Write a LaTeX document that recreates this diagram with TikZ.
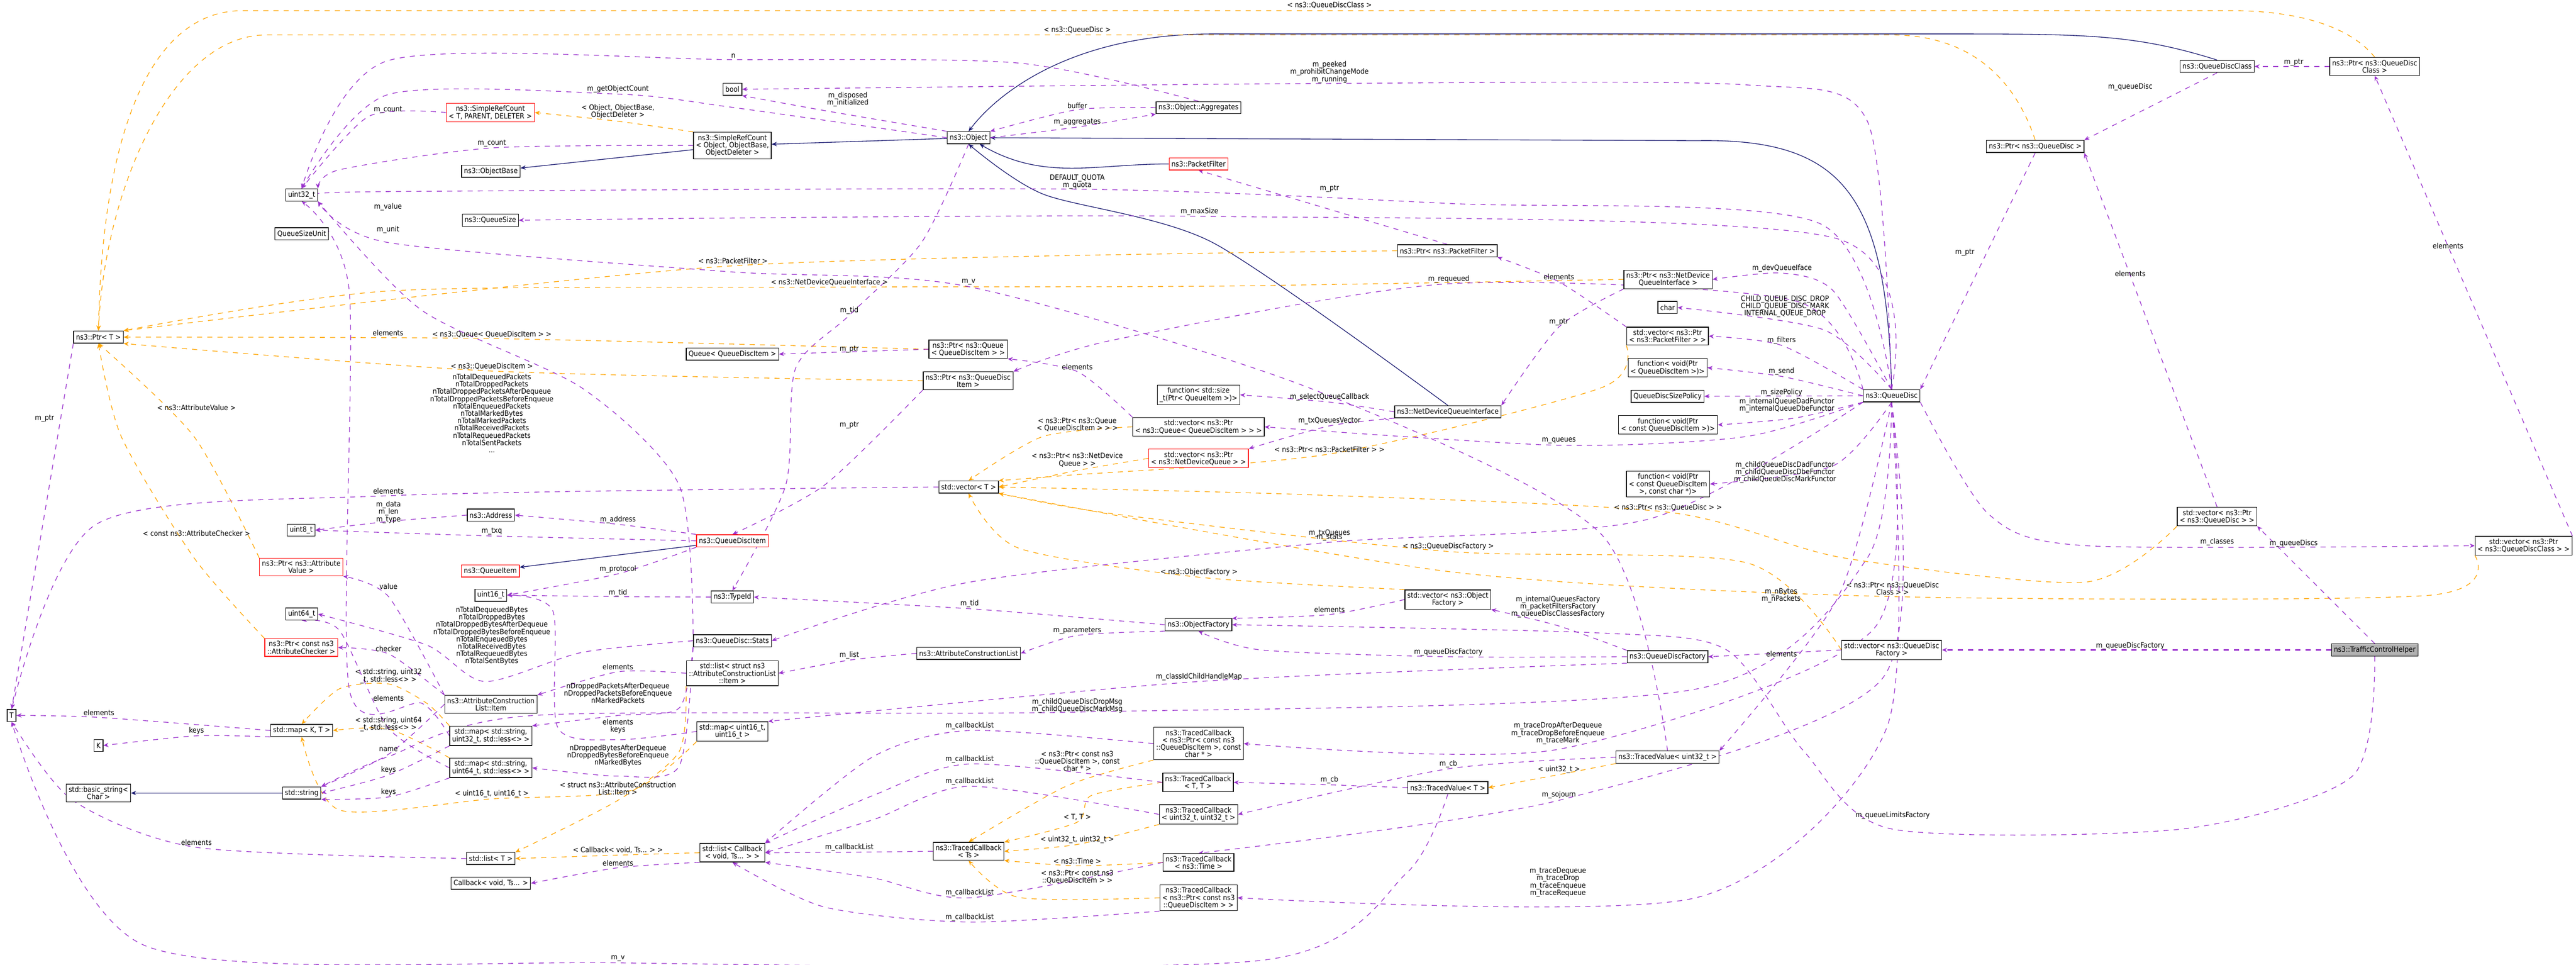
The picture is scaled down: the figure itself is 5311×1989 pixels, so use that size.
\documentclass[tikz,border=0pt]{standalone}
\usepackage{fontspec}
\setmainfont{DejaVu Sans Condensed}
\usetikzlibrary{arrows.meta,backgrounds}
\definecolor{pc}{HTML}{9A32CD}
\definecolor{oc}{HTML}{FFA500}
\definecolor{nc}{HTML}{191970}
\newcommand{\fs}{\fontsize{4.3}{4.3}\selectfont}
\newcommand{\Lb}[3]{\node[lbl] at (#1,#2) {#3};}
\newcommand{\Pe}[2]{\draw[#1] plot[smooth,tension=0.45] coordinates {#2};}
\begin{document}
\begin{tikzpicture}[x=0.01cm,y=-0.01cm,
 box/.style={draw=black,fill=white,inner sep=1.4pt,align=center,font=\fs,minimum height=0.25cm},
 rbox/.style={box,draw=red},
 pe/.style={dashed,draw=pc,-{Stealth[length=3pt,width=2.5pt]},thin},
 oe/.style={dashed,draw=oc,-{Stealth[length=3pt,width=2.5pt]},thin},
 ne/.style={draw=nc,-{Stealth[length=3pt,width=2.5pt]},thin},
 lbl/.style={font=\fs,align=center,inner sep=0.5pt,text=black}]
\useasboundingbox (0,0) rectangle (5311,1989);
\node[box] (ptrT) at (203,695) {ns3::Ptr< T >};
\node[box] (u32) at (622,402) {uint32\_t};
\node[box] (qsu) at (622,482) {QueueSizeUnit};
\node[box] (qsize) at (1011,454) {ns3::QueueSize};
\node[rbox] (srcT) at (1011,232) {ns3::SimpleRefCount\\< T, PARENT, DELETER >};
\node[box] (srcO) at (1510,300) {ns3::SimpleRefCount\\< Object, ObjectBase,\\ObjectDeleter >};
\node[box] (objbase) at (1012,353) {ns3::ObjectBase};
\node[box] (bool) at (1510,184) {bool};
\node[box] (queueqdi) at (1510,730) {Queue< QueueDiscItem >};
\node[box] (obj) at (1997,284) {ns3::Object};
\node[box] (aggr) at (2471,222) {ns3::Object::Aggregates};
\node[rbox] (pf) at (2471,338) {ns3::PacketFilter};
\node[box] (ptrpf) at (2984,517) {ns3::Ptr< ns3::PacketFilter >};
\node[box] (ptrndqi) at (3439,576) {ns3::Ptr< ns3::NetDevice\\QueueInterface >};
\node[box] (char) at (3438,634) {char};
\node[box] (vecpf) at (3438,693) {std::vector< ns3::Ptr\\< ns3::PacketFilter > >};
\node[box] (fnqdi) at (3438,758) {function< void(Ptr\\< QueueDiscItem >)>};
\node[box] (qdsp) at (3438,817) {QueueDiscSizePolicy};
\node[box] (fncqdi) at (3439,876) {function< void(Ptr\\< const QueueDiscItem >)>};
\node[box] (fncqdic) at (3439,998) {function< void(Ptr\\< const QueueDiscItem\\>, const char *)>};
\node[box] (ptrq) at (1996,720) {ns3::Ptr< ns3::Queue\\< QueueDiscItem > >};
\node[box] (ptrqdi) at (1996,785) {ns3::Ptr< ns3::QueueDisc\\Item >};
\node[box] (fnsize) at (2471,814) {function< std::size\\\_t(Ptr< QueueItem >)>};
\node[box] (ndqi) at (2985,849) {ns3::NetDeviceQueueInterface};
\node[box] (vecq) at (2471,880) {std::vector< ns3::Ptr\\< ns3::Queue< QueueDiscItem > > >};
\node[rbox] (vecndq) at (2471,945) {std::vector< ns3::Ptr\\< ns3::NetDeviceQueue > >};
\node[box] (vecT) at (1997,1004) {std::vector< T >};
\node[box] (qdc) at (4571,137) {ns3::QueueDiscClass};
\node[box] (ptrqdc) at (4896,137) {ns3::Ptr< ns3::QueueDisc\\Class >};
\node[box] (ptrqd) at (4196,302) {ns3::Ptr< ns3::QueueDisc >};
\node[box] (qd) at (3900,816) {ns3::QueueDisc};
\node[box] (T) at (24,1475) {T};
\node[box] (K) at (203,1537) {K};
\node[box] (mapKT) at (622,1506) {std::map< K, T >};
\node[box] (bstr) at (203,1635) {std::basic\_string<\\Char >};
\node[box] (str) at (622,1635) {std::string};
\node[box] (u8) at (621,1093) {uint8\_t};
\node[box] (addr) at (1012,1062) {ns3::Address};
\node[rbox] (qdi) at (1510,1115) {ns3::QueueDiscItem};
\node[rbox] (qi) at (1011,1177) {ns3::QueueItem};
\node[box] (u16) at (1012,1227) {uint16\_t};
\node[box] (tid) at (1510,1231) {ns3::TypeId};
\node[rbox] (ptrav) at (621,1169) {ns3::Ptr< ns3::Attribute\\Value >};
\node[box] (u64) at (622,1266) {uint64\_t};
\node[rbox] (ptrac) at (621,1335) {ns3::Ptr< const ns3\\::AttributeChecker >};
\node[box] (acli) at (1012,1452) {ns3::AttributeConstruction\\List::Item};
\node[box] (mapsu32) at (1012,1517) {std::map< std::string,\\uint32\_t, std::less<> >};
\node[box] (mapsu64) at (1012,1583) {std::map< std::string,\\uint64\_t, std::less<> >};
\node[box] (stats) at (1510,1321) {ns3::QueueDisc::Stats};
\node[box] (listacli) at (1510,1388) {std::list< struct ns3\\::AttributeConstructionList\\::Item >};
\node[box] (mapu16) at (1510,1508) {std::map< uint16\_t,\\uint16\_t >};
\node[box] (listT) at (1012,1770) {std::list< T >};
\node[box] (cbv) at (1012,1821) {Callback< void, Ts... >};
\node[box] (listcb) at (1510,1758) {std::list< Callback\\< void, Ts... > >};
\node[box] (of) at (2471,1288) {ns3::ObjectFactory};
\node[box] (vecof) at (2985,1236) {std::vector< ns3::Object\\Factory >};
\node[box] (acl) at (1997,1347) {ns3::AttributeConstructionList};
\node[box] (qdf) at (3438,1354) {ns3::QueueDiscFactory};
\node[box] (tcpc) at (2471,1533) {ns3::TracedCallback\\< ns3::Ptr< const ns3\\::QueueDiscItem >, const\\char * >};
\node[box] (tctt) at (2470,1613) {ns3::TracedCallback\\< T, T >};
\node[box] (tcuu) at (2471,1679) {ns3::TracedCallback\\< uint32\_t, uint32\_t >};
\node[box] (tcts) at (1997,1755) {ns3::TracedCallback\\< Ts >};
\node[box] (tctime) at (2471,1778) {ns3::TracedCallback\\< ns3::Time >};
\node[box] (tcp) at (2471,1851) {ns3::TracedCallback\\< ns3::Ptr< const ns3\\::QueueDiscItem > >};
\node[box] (tvT) at (2985,1624) {ns3::TracedValue< T >};
\node[box] (tvu) at (3438,1561) {ns3::TracedValue< uint32\_t >};
\node[box] (vecqd) at (4571,1065) {std::vector< ns3::Ptr\\< ns3::QueueDisc > >};
\node[box] (vecqdc) at (5203,1125) {std::vector< ns3::Ptr\\< ns3::QueueDiscClass > >};
\node[box] (vecqdf) at (3900,1340) {std::vector< ns3::QueueDisc\\Factory >};
\node[box,fill=black!30] (tch) at (4896,1340) {ns3::TrafficControlHelper};
% labels
\Lb{1512}{115}{n}
\Lb{1274}{184}{m\_getObjectCount}
\Lb{800}{226}{m\_count}
\Lb{1274}{230}{< Object, ObjectBase,\\ObjectDeleter >}
\Lb{1014}{295}{m\_count}
\Lb{800}{427}{m\_value}
\Lb{800}{473}{m\_unit}
\Lb{1748}{205}{m\_disposed\\m\_initialized}
\Lb{1511}{538}{< ns3::PacketFilter >}
\Lb{1710}{582}{< ns3::NetDeviceQueueInterface >}
\Lb{1751}{640}{m\_tid}
\Lb{800}{686}{elements}
\Lb{1014}{689}{< ns3::Queue< QueueDiscItem > >}
\Lb{1751}{720}{m\_ptr}
\Lb{1014}{755}{< ns3::QueueDiscItem >}
\Lb{1014}{852}{nTotalDequeuedPackets\\nTotalDroppedPackets\\nTotalDroppedPacketsAfterDequeue\\nTotalDroppedPacketsBeforeEnqueue\\nTotalEnqueuedPackets\\nTotalMarkedBytes\\nTotalMarkedPackets\\nTotalReceivedPackets\\nTotalRequeuedPackets\\nTotalSentPackets\\...}
\Lb{405}{840}{< ns3::AttributeValue >}
\Lb{92}{863}{m\_ptr}
\Lb{1751}{876}{m\_ptr}
\Lb{2741}{11}{< ns3::QueueDiscClass >}
\Lb{2221}{62}{< ns3::QueueDisc >}
\Lb{2741}{149}{m\_peeked\\m\_prohibitChangeMode\\m\_running}
\Lb{2221}{218}{buffer}
\Lb{2221}{252}{m\_aggregates}
\Lb{2221}{375}{DEFAULT\_QUOTA\\m\_quota}
\Lb{2741}{389}{m\_ptr}
\Lb{2473}{436}{m\_maxSize}
\Lb{1997}{581}{m\_v}
\Lb{2987}{575}{m\_requeued}
\Lb{3214}{571}{elements}
\Lb{3214}{664}{m\_ptr}
\Lb{2221}{756}{elements}
\Lb{2741}{819}{m\_selectQueueCallback}
\Lb{2221}{875}{< ns3::Ptr< ns3::Queue\\< QueueDiscItem > > >}
\Lb{2741}{868}{m\_txQueuesVector}
\Lb{3214}{908}{m\_queues}
\Lb{2221}{948}{< ns3::Ptr< ns3::NetDevice\\Queue > >}
\Lb{2741}{926}{< ns3::Ptr< ns3::PacketFilter > >}
\Lb{4729}{129}{m\_ptr}
\Lb{4392}{179}{m\_queueDisc}
\Lb{4051}{521}{m\_ptr}
\Lb{4392}{564}{elements}
\Lb{5047}{507}{elements}
\Lb{3674}{553}{m\_devQueueIface}
\Lb{3680}{632}{CHILD\_QUEUE\_DISC\_DROP\\CHILD\_QUEUE\_DISC\_MARK\\INTERNAL\_QUEUE\_DROP}
\Lb{3673}{702}{m\_filters}
\Lb{3673}{766}{m\_send}
\Lb{3673}{809}{m\_sizePolicy}
\Lb{3684}{836}{m\_internalQueueDadFunctor\\m\_internalQueueDbeFunctor}
\Lb{3680}{974}{m\_childQueueDiscDadFunctor\\m\_childQueueDiscDbeFunctor\\m\_childQueueDiscMarkFunctor}
\Lb{801}{1013}{elements}
\Lb{801}{1056}{m\_data\\m\_len\\m\_type}
\Lb{1274}{1071}{m\_address}
\Lb{1014}{1095}{m\_txq}
\Lb{405}{1100}{< const ns3::AttributeChecker >}
\Lb{1274}{1173}{m\_protocol}
\Lb{801}{1209}{value}
\Lb{1274}{1222}{m\_tid}
\Lb{1014}{1311}{nTotalDequeuedBytes\\nTotalDroppedBytes\\nTotalDroppedBytesAfterDequeue\\nTotalDroppedBytesBeforeEnqueue\\nTotalEnqueuedBytes\\nTotalReceivedBytes\\nTotalRequeuedBytes\\nTotalSentBytes}
\Lb{801}{1337}{checker}
\Lb{801}{1394}{< std::string, uint32\\\_t, std::less<> >}
\Lb{1274}{1375}{elements}
\Lb{1751}{1351}{m\_list}
\Lb{1274}{1429}{nDroppedPacketsAfterDequeue\\nDroppedPacketsBeforeEnqueue\\nMarkedPackets}
\Lb{801}{1440}{elements}
\Lb{204}{1469}{elements}
\Lb{801}{1493}{< std::string, uint64\\\_t, std::less<> >}
\Lb{405}{1507}{keys}
\Lb{1274}{1497}{elements\\keys}
\Lb{801}{1545}{name}
\Lb{1274}{1558}{nDroppedBytesAfterDequeue\\nDroppedBytesBeforeEnqueue\\nMarkedBytes}
\Lb{801}{1588}{keys}
\Lb{1274}{1625}{< struct ns3::AttributeConstruction\\List::Item >}
\Lb{1014}{1637}{< uint16\_t, uint16\_t >}
\Lb{801}{1633}{keys}
\Lb{405}{1737}{elements}
\Lb{1274}{1753}{< Callback< void, Ts... > >}
\Lb{1274}{1779}{elements}
\Lb{1751}{1747}{m\_callbackList}
\Lb{1274}{1976}{m\_v}
\Lb{2741}{1099}{m\_txQueues}
\Lb{2741}{1108}{m\_stats}
\Lb{2986}{1127}{< ns3::QueueDiscFactory >}
\Lb{2472}{1180}{< ns3::ObjectFactory >}
\Lb{1999}{1245}{m\_tid}
\Lb{2741}{1257}{elements}
\Lb{3212}{1251}{m\_internalQueuesFactory\\m\_packetFiltersFactory\\m\_queueDiscClassesFactory}
\Lb{2221}{1300}{m\_parameters}
\Lb{2986}{1344}{m\_queueDiscFactory}
\Lb{2472}{1395}{m\_classIdChildHandleMap}
\Lb{2221}{1455}{m\_childQueueDiscDropMsg\\m\_childQueueDiscMarkMsg}
\Lb{1999}{1496}{m\_callbackList}
\Lb{3212}{1512}{m\_traceDropAfterDequeue\\m\_traceDropBeforeEnqueue\\m\_traceMark}
\Lb{1999}{1565}{m\_callbackList}
\Lb{2221}{1569}{< ns3::Ptr< const ns3\\::QueueDiscItem >, const\\char * >}
\Lb{2986}{1575}{m\_cb}
\Lb{3214}{1587}{< uint32\_t >}
\Lb{1999}{1611}{m\_callbackList}
\Lb{2741}{1608}{m\_cb}
\Lb{3214}{1639}{m\_sojourn}
\Lb{2221}{1685}{< T, T >}
\Lb{2221}{1731}{< uint32\_t, uint32\_t >}
\Lb{2221}{1775}{< ns3::Time >}
\Lb{2221}{1808}{< ns3::Ptr< const ns3\\::QueueDiscItem > >}
\Lb{3212}{1819}{m\_traceDequeue\\m\_traceDrop\\m\_traceEnqueue\\m\_traceRequeue}
\Lb{1999}{1841}{m\_callbackList}
\Lb{1999}{1891}{m\_callbackList}
\Lb{3439}{1046}{< ns3::Ptr< ns3::QueueDisc > >}
\Lb{4571}{1117}{m\_classes}
\Lb{4729}{1120}{m\_queueDiscs}
\Lb{3902}{1213}{< ns3::Ptr< ns3::QueueDisc\\Class > >}
\Lb{3672}{1228}{m\_nBytes\\m\_nPackets}
\Lb{3673}{1348}{elements}
\Lb{4392}{1332}{m\_queueDiscFactory}
\Lb{3902}{1681}{m\_queueLimitsFactory}
\begin{scope}[on background layer]
% inheritance
\draw[ne] (srcO) -- (objbase);
\draw[ne] (obj) -- (srcO);
\draw[ne] (pf.west) to[out=180,in=-30] (obj);
\Pe{ne}{(ndqi.north) (2500,500) (2150,400) (obj.south)}
\draw[ne] (qdc.north) .. controls (4400,70) and (4300,70) .. (4000,70) -- (2500,70) .. controls (2200,70) and (2050,200) .. (obj.north);
\draw[ne] (qd.north) .. controls (3890,400) and (3800,285) .. (3500,290) -- (obj.east);
\draw[ne] (qdi) -- (qi);
\draw[ne] (str) -- (bstr);
% templates
\Pe{oe}{(srcO.north west) (1274,250) (srcT.east)}
\draw[oe] (ptrqdc.north) .. controls (4850,60) and (4750,22) .. (4600,22) -- (500,22) .. controls (300,22) and (210,300) .. (ptrT.north);
\draw[oe] (ptrqd.north) .. controls (4150,150) and (4050,72) .. (3900,72) -- (550,72) .. controls (350,72) and (215,400) .. (ptrT.north);
\Pe{oe}{(ptrpf.west) (1511,548) (ptrT.north east)}
\Pe{oe}{(ptrndqi.west) (2500,590) (1710,592) (800,600) (ptrT.north east)}
\Pe{oe}{(ptrq.west) (1014,698) (ptrT.east)}
\Pe{oe}{(ptrqdi.west) (1014,765) (ptrT.south east)}
\Pe{oe}{(ptrav.north west) (400,900) (ptrT.south)}
\Pe{oe}{(ptrac.north west) (400,1150) (250,900) (ptrT.south)}
\Pe{oe}{(vecq.west) (2150,900) (vecT.north)}
\Pe{oe}{(vecndq.west) (2221,970) (vecT.east)}
\Pe{oe}{(vecpf.south west) (3300,800) (2741,936) (2200,980) (vecT.north east)}
\Pe{oe}{(vecqd.south west) (4300,1200) (3800,1150) (3439,1056) (2700,1020) (vecT.east)}
\Pe{oe}{(vecqdf.west) (3600,1160) (2986,1137) (2300,1060) (vecT.south east)}
\Pe{oe}{(vecof.north west) (2472,1190) (2100,1130) (vecT.south)}
\Pe{oe}{(vecqdc.south west) (5000,1228) (3902,1230) (3000,1180) (vecT.south east)}
\Pe{oe}{(mapsu32.north west) (880,1450) (801,1410) (700,1420) (mapKT.north)}
\Pe{oe}{(mapsu64.north west) (801,1503) (mapKT.east)}
\Pe{oe}{(mapu16.south west) (1300,1630) (1014,1647) (700,1670) (mapKT.south)}
\Pe{oe}{(listacli.south west) (1400,1550) (1274,1650) (listT.north east)}
\Pe{oe}{(listcb.west) (1274,1763) (listT.east)}
\Pe{oe}{(tcpc.south west) (2200,1620) (tcts.north)}
\Pe{oe}{(tctt.west) (2250,1640) (2221,1695) (tcts.north east)}
\Pe{oe}{(tcuu.south west) (2221,1741) (tcts.east)}
\Pe{oe}{(tctime.west) (2221,1785) (tcts.south east)}
\Pe{oe}{(tcp.west) (2100,1850) (tcts.south)}
\Pe{oe}{(tvu.south west) (3214,1597) (tvT.east)}
% members
\Pe{pe}{(srcT.west) (760,240) (u32.north)}
\Pe{pe}{(srcO.west) (1014,305) (700,350) (u32.north east)}
\Pe{pe}{(obj.west) (1500,220) (1274,194) (800,195) (u32.north)}
\Pe{pe}{(aggr.north) (2100,130) (1512,123) (800,125) (u32.north)}
\Pe{pe}{(obj.north west) (1700,228) (bool.south east)}
\Pe{pe}{(obj.east) (2221,262) (aggr.south west)}
\Pe{pe}{(aggr.west) (2221,226) (obj.north east)}
\Pe{pe}{(qd.north) (3850,250) (3600,175) (2741,172) (bool.east)}
\Pe{pe}{(qd.north) (3750,460) (3000,420) (2221,390) (800,395) (u32.east)}
\Pe{pe}{(qd.north) (3780,490) (2473,446) (qsize.east)}
\draw[pe] (ptrpf.north) -- (pf.south);
\Pe{pe}{(ptrqdi.south west) (1700,1000) (qdi.north)}
\draw[pe] (ptrq.west) -- (queueqdi.east);
\Pe{pe}{(obj.south) (1900,500) (1751,650) (1640,760) (1620,1000) (tid.north)}
\draw[pe] (ptrT.south west) -- (T.north);
\Pe{pe}{(vecT.west) (801,1022) (200,1080) (T.north)}
\Pe{pe}{(addr.west) (801,1075) (u8.east)}
\Pe{pe}{(qdi.north west) (1274,1081) (addr.east)}
\Pe{pe}{(qdi.west) (1014,1105) (u8.east)}
\Pe{pe}{(qdi.south west) (1274,1183) (u16.east)}
\Pe{pe}{(tid.west) (1274,1230) (u16.east)}
\Pe{pe}{(acli.north west) (801,1230) (ptrav.south east)}
\Pe{pe}{(acli.north west) (801,1348) (ptrac.east)}
\Pe{pe}{(stats.west) (1200,1345) (1000,1405) (880,1330) (u64.east)}
\Pe{pe}{(stats.north west) (1400,1000) (1200,800) (870,640) (u32.south east)}
\Pe{pe}{(acl.west) (1751,1361) (listacli.east)}
\Pe{pe}{(listacli.west) (1274,1385) (acli.north east)}
\Pe{pe}{(stats.south west) (1400,1460) (1274,1475) (mapsu32.north east)}
\Pe{pe}{(stats.south west) (1400,1580) (1274,1600) (mapsu64.east)}
\Pe{pe}{(mapu16.west) (1274,1525) (1150,1500) (1140,1260) (u16.east)}
\Pe{pe}{(mapsu32.west) (870,1450) (720,1420) (720,600) (u32.south)}
\Pe{pe}{(mapsu64.west) (800,1500) (700,1300) (u64.south)}
\Pe{pe}{(acli.west) (801,1555) (str.north east)}
\Pe{pe}{(mapsu32.south west) (801,1598) (str.east)}
\Pe{pe}{(mapsu64.south west) (801,1643) (str.south east)}
\Pe{pe}{(mapKT.west) (204,1479) (T.east)}
\Pe{pe}{(mapKT.south west) (405,1517) (K.east)}
\Pe{pe}{(listT.west) (405,1747) (150,1650) (T.south)}
\Pe{pe}{(listcb.south west) (1274,1789) (cbv.east)}
\Pe{pe}{(tvT.south) (2900,1800) (2600,1980) (1274,1985) (300,1950) (T.south)}
\Pe{pe}{(tvu.north) (3300,1100) (2700,800) (1997,591) (1500,560) (800,500) (u32.south east)}
\Pe{pe}{(qd.north west) (3700,620) (2987,585) (2300,700) (ptrqdi.north east)}
\Pe{pe}{(vecpf.north west) (3214,581) (ptrpf.south east)}
\Pe{pe}{(ptrndqi.south west) (3214,674) (ndqi.north east)}
\Pe{pe}{(vecq.north west) (2221,766) (ptrq.south east)}
\Pe{pe}{(ndqi.west) (2741,829) (fnsize.east)}
\Pe{pe}{(ndqi.south west) (2741,878) (vecndq.north east)}
\Pe{pe}{(qd.south west) (3600,900) (3214,918) (vecq.east)}
\Pe{pe}{(qd.north) (3780,600) (3674,563) (ptrndqi.east)}
\Pe{pe}{(qd.north) (3760,680) (char.east)}
\Pe{pe}{(qd.north west) (3673,712) (vecpf.east)}
\Pe{pe}{(qd.west) (3673,776) (fnqdi.east)}
\draw[pe] (qd.west) -- (qdsp.east);
\Pe{pe}{(qd.south west) (3700,862) (fncqdi.east)}
\Pe{pe}{(qd.south) (3780,960) (fncqdic.east)}
\draw[pe] (ptrqdc.west) -- (qdc.east);
\draw[pe] (qdc.south) -- (ptrqd.north east);
\draw[pe] (ptrqd.south) -- (qd.north east);
\draw[pe] (vecqd.north) -- (ptrqd.south east);
\draw[pe] (vecqdc.north east) -- (ptrqdc.south);
\Pe{pe}{(qd.south east) (4100,1060) (4300,1125) (vecqdc.west)}
\draw[pe] (tch.north) -- (vecqd.south east);
\draw[pe,thick] (tch.west) -- (vecqdf.east);
\Pe{pe}{(tch.south) (4850,1600) (4500,1709) (3900,1709) (3720,1550) (3560,1340) (3300,1305) (of.east)}
\draw[pe] (vecqdf.west) -- (qdf.east);
\Pe{pe}{(qdf.west) (2986,1354) (2600,1340) (of.south)}
\Pe{pe}{(qdf.north west) (3212,1290) (vecof.south east)}
\Pe{pe}{(qdf.south west) (2472,1405) (mapu16.north east)}
\Pe{pe}{(vecof.west) (2741,1267) (of.north east)}
\Pe{pe}{(of.west) (1999,1255) (tid.east)}
\Pe{pe}{(of.south west) (2221,1310) (acl.east)}
\Pe{pe}{(qd.south) (3850,1150) (3500,1420) (2221,1468) (1100,1475) (800,1560) (str.north east)}
\Pe{pe}{(qd.south) (3860,1300) (3212,1545) (tcpc.east)}
\Pe{pe}{(qd.south) (3790,1230) (tvu.north east)}
\Pe{pe}{(qd.south) (3880,1400) (3214,1650) (tctime.north)}
\Pe{pe}{(qd.south) (3890,1500) (3500,1850) (tcp.east)}
\Pe{pe}{(qd.south west) (3400,1070) (2741,1118) (2000,1200) (stats.east)}
\Pe{pe}{(tvT.west) (2741,1618) (tctt.east)}
\Pe{pe}{(tvu.west) (2986,1585) (tcuu.east)}
\Pe{pe}{(tcpc.west) (1999,1506) (1800,1560) (listcb.north east)}
\Pe{pe}{(tctt.west) (1999,1575) (1800,1640) (listcb.north east)}
\Pe{pe}{(tcuu.west) (1999,1621) (1800,1690) (listcb.east)}
\Pe{pe}{(tcts.west) (1751,1757) (listcb.east)}
\Pe{pe}{(tctime.west) (1999,1851) (1800,1810) (listcb.south east)}
\Pe{pe}{(tcp.south west) (1999,1901) (1700,1870) (listcb.south)}
\end{scope}
\end{tikzpicture}
\end{document}
